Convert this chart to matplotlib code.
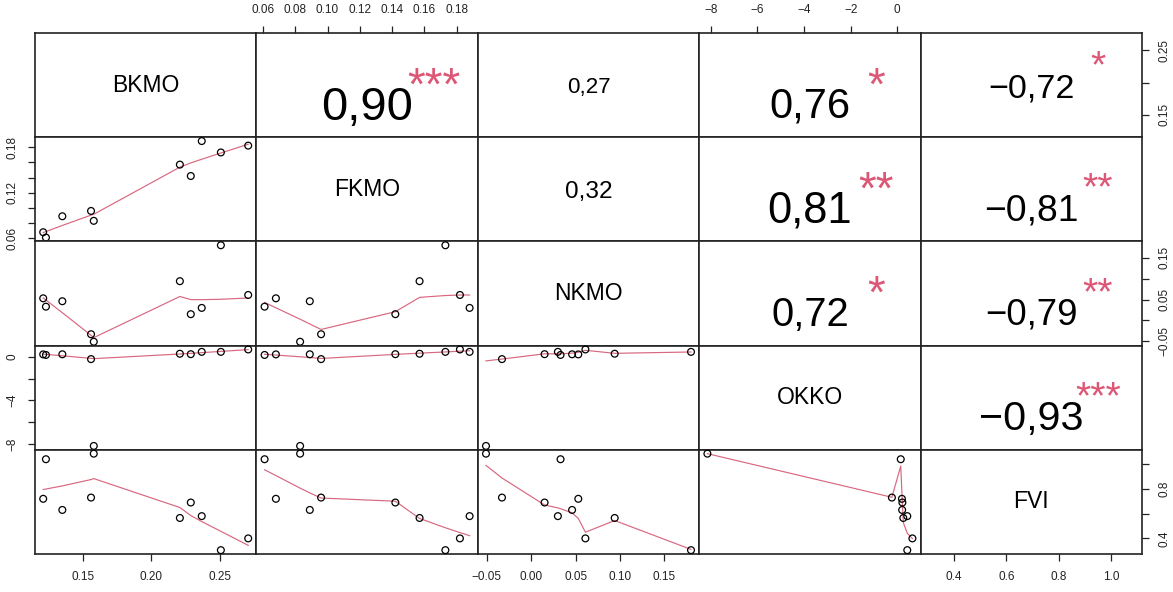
import numpy as np
import matplotlib
matplotlib.use("Agg")
import matplotlib.pyplot as plt
from matplotlib.transforms import ScaledTranslation

plt.rcParams["font.family"] = ["Liberation Sans", "DejaVu Sans"]

# 数据 (10 个观测, 从图上读出)
names = ["BKMO", "FKMO", "NKMO", "OKKO", "FVI"]
bkmo = [0.121, 0.123, 0.135, 0.156, 0.158, 0.221, 0.229, 0.237, 0.251, 0.271]
fkmo = [0.068, 0.061, 0.089, 0.096, 0.083, 0.157, 0.142, 0.188, 0.173, 0.182]
nkmo = [0.053, 0.033, 0.046, -0.033, -0.051, 0.094, 0.015, 0.030, 0.180, 0.061]
okko = [0.20, 0.15, 0.21, -0.23, -8.15, 0.26, 0.22, 0.43, 0.43, 0.65]
fvi = [0.72, 1.04, 0.63, 0.73, 1.085, 0.565, 0.69, 0.58, 0.305, 0.40]
data = [bkmo, fkmo, nkmo, okko, fvi]

# 上三角: (行, 列, 相关系数文字, 显著性星号)
cor_cells = [
    (0, 1, "0,90", "***"), (0, 2, "0,27", ""), (0, 3, "0,76", "*"), (0, 4, "-0,72", "*"),
    (1, 2, "0,32", ""), (1, 3, "0,81", "**"), (1, 4, "-0,81", "**"),
    (2, 3, "0,72", "*"), (2, 4, "-0,79", "**"),
    (3, 4, "-0,93", "***"),
]

# 坐标轴刻度
ticks = [
    [0.15, 0.20, 0.25],
    [0.06, 0.08, 0.10, 0.12, 0.14, 0.16, 0.18],
    [-0.05, 0.00, 0.05, 0.10, 0.15],
    [-8, -6, -4, -2, 0],
    [0.4, 0.6, 0.8, 1.0],
]
tick_fmt = ["{:.2f}", "{:.2f}", "{:.2f}", "{:.0f}", "{:.1f}"]
vlabel_step = [2, 3, 2, 2, 2]   # 竖直轴上标签间隔 (R 会去掉重叠的)

RED = "#DC5775"
LINE = "#D8677F"


def _lowest(x, y, xs, nleft, nright, rw, userw):
    n = len(x)
    rng = x[-1] - x[0]
    h = max(xs - x[nleft], x[nright] - xs)
    h9, h1 = 0.999 * h, 0.001 * h
    w = np.zeros(n)
    a = 0.0
    j = nleft
    while j < n:
        r = abs(x[j] - xs)
        if r <= h9:
            w[j] = 1.0 if r <= h1 else (1 - (r / h) ** 3) ** 3
            if userw:
                w[j] *= rw[j]
            a += w[j]
        elif x[j] > xs:
            break
        j += 1
    nrt = j - 1
    if a <= 0:
        return None
    sl = slice(nleft, nrt + 1)
    w[sl] /= a
    if h > 0:
        a = np.sum(w[sl] * x[sl])
        b = xs - a
        c = np.sum(w[sl] * (x[sl] - a) ** 2)
        if np.sqrt(c) > 0.001 * rng:
            b /= c
            w[sl] *= b * (x[sl] - a) + 1
    return np.sum(w[sl] * y[sl])


def lowess(x, y, f=2 / 3, iters=3):
    """R 的 lowess (clowess) 移植"""
    order = np.argsort(x, kind="stable")
    x = np.asarray(x, float)[order]
    y = np.asarray(y, float)[order]
    n = len(x)
    delta = 0.01 * (x[-1] - x[0])
    ns = max(min(int(f * n + 1e-7), n), 2)
    ys = np.zeros(n)
    rw = np.ones(n)
    it = 1
    while it <= iters + 1:
        nleft, nright, last, i = 0, ns - 1, -1, 0
        while True:
            if nright < n - 1:
                if x[i] - x[nleft] > x[nright + 1] - x[i]:
                    nleft += 1
                    nright += 1
                    continue
            val = _lowest(x, y, x[i], nleft, nright, rw, it > 1)
            ys[i] = y[i] if val is None else val
            if last < i - 1:
                denom = x[i] - x[last]
                for j in range(last + 1, i):
                    al = (x[j] - x[last]) / denom
                    ys[j] = al * ys[i] + (1 - al) * ys[last]
            last = i
            cut = x[last] + delta
            i = last + 1
            while i < n:
                if x[i] > cut:
                    break
                if x[i] == x[last]:
                    ys[i] = ys[last]
                    last = i
                i += 1
            i = max(last + 1, i - 1)
            if last >= n - 1:
                break
        res = y - ys
        sc = np.abs(res).sum() / n
        if it > iters:
            break
        cmad = 6 * np.median(np.abs(res))
        if cmad < 1e-7 * sc:
            break
        r = np.abs(res)
        rw = np.where(r <= 0.001 * cmad, 1.0,
                      np.where(r <= 0.999 * cmad, (1 - (r / cmad) ** 2) ** 2, 0.0))
        it += 1
    return x, ys


def lim(v):
    lo, hi = min(v), max(v)
    p = 0.04 * (hi - lo)
    return lo - p, hi + p


def str_em(txt):
    # Arial 字宽 (em), 用于按 R 的方式缩放字号
    wd = {"-": 0.333, ",": 0.278}
    return sum(wd.get(c, 0.556) for c in txt)


def fmt(k, v):
    return tick_fmt[k].format(v).replace("-", "\u2212")


def glyph_text(ax, x, y, s, fs, mid, **kw):
    # 以字形中心 (基线以上 mid 个 em) 对准 (x, y)
    tr = ax.transAxes + ScaledTranslation(0, -mid * fs / 72, ax.figure.dpi_scale_trans)
    ax.text(x, y, s, transform=tr, ha="center", va="baseline", fontsize=fs, **kw)


nv = len(names)
fig, axes = plt.subplots(nv, nv, figsize=(11.73, 5.92), dpi=100,
                         gridspec_kw=dict(wspace=0, hspace=0))
fig.subplots_adjust(left=35 / 1173, right=1142 / 1173, top=1 - 33 / 592, bottom=1 - 554 / 592)

for i in range(nv):
    for j in range(nv):
        ax = axes[i, j]
        ax.set_xlim(*lim(data[j]))
        ax.set_ylim(*lim(data[i]))
        ax.set_xticks([])
        ax.set_yticks([])
        for s in ax.spines.values():
            s.set_linewidth(1.2)
            s.set_color("#222222")
        if i > j:
            ax.scatter(data[j], data[i], s=24, facecolors="none", edgecolors="black",
                       linewidths=0.9, clip_on=False, zorder=3)
            lx, ly = lowess(data[j], data[i])
            ax.plot(lx, ly, color=LINE, lw=0.85, zorder=2)
        elif i == j:
            ax.text(0.5, 0.5, names[i], transform=ax.transAxes, ha="center", va="center",
                    fontsize=16.5)

for i, j, txt, st in cor_cells:
    ax = axes[i, j]
    r = abs(float(txt.replace(",", ".")))
    fs = 55 * (r + 0.3) / str_em(txt)
    off = 0.17 if fs > 25.5 else 0.0   # 大字号时原图整体下移
    glyph_text(ax, 0.5, 0.5 - off, txt.replace("-", "\u2212"), fs, 0.358)
    if st:
        glyph_text(ax, 0.8, 0.79 - off, st, 64 / str_em(txt), 0.585, color=RED)

tick_kw = dict(direction="out", length=5, width=0.9, labelsize=8.5, pad=7, colors="#222222")
for k in range(nv):
    tl = [fmt(k, v) for v in ticks[k]]
    vl = [t if n % vlabel_step[k] == 0 else "" for n, t in enumerate(tl)]
    if k % 2 == 0:
        ax = axes[nv - 1, k]   # 下方
        ax.set_xticks(ticks[k], tl)
        ax.tick_params(axis="x", bottom=True, **tick_kw)
        ax = axes[k, nv - 1]   # 右侧
        ax.set_yticks(ticks[k], vl)
        ax.tick_params(axis="y", left=False, right=True, labelleft=False, labelright=True, **tick_kw)
        for t in ax.get_yticklabels():
            t.set_rotation(90)
            t.set_va("center")
    else:
        ax = axes[0, k]        # 上方
        ax.set_xticks(ticks[k], tl)
        ax.tick_params(axis="x", bottom=False, top=True, labelbottom=False, labeltop=True, **tick_kw)
        ax = axes[k, 0]        # 左侧
        ax.set_yticks(ticks[k], vl)
        ax.tick_params(axis="y", **tick_kw)
        for t in ax.get_yticklabels():
            t.set_rotation(90)
            t.set_va("center")
    axes[k, k].set_xlim(*lim(data[k]))
    axes[k, k].set_ylim(*lim(data[k]))

fig.savefig("out.png", dpi=100)
